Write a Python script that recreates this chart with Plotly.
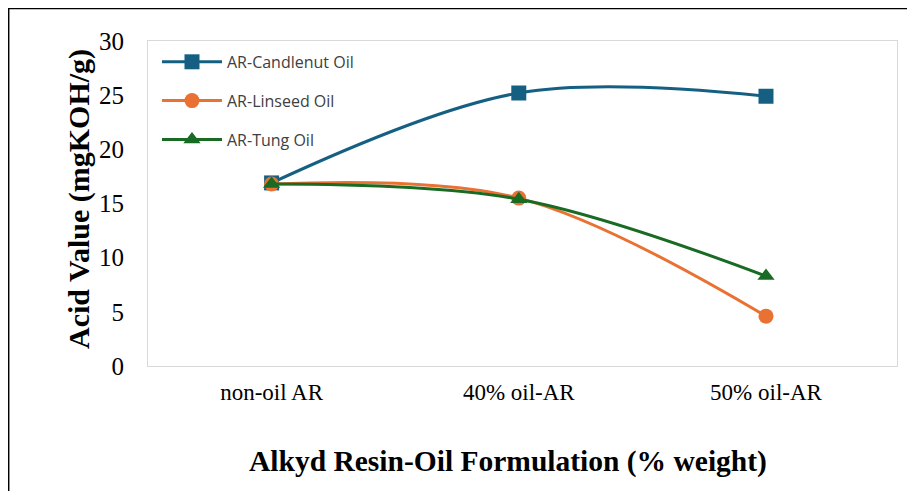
import plotly.graph_objects as go

categories = ["non-oil AR", "40% oil-AR", "50% oil-AR"]
candlenut = [16.9, 25.2, 24.9]
linseed = [16.8, 15.5, 4.6]
tung = [16.8, 15.4, 8.3]
y_ticks = [0, 5, 10, 15, 20, 25, 30]

series = [
    ("AR-Candlenut Oil", candlenut, "#156082", "square"),
    ("AR-Linseed Oil", linseed, "#E97132", "circle"),
    ("AR-Tung Oil", tung, "#196B24", "triangle-up"),
]

fig = go.Figure()
for name, vals, color, symbol in series:
    fig.add_trace(go.Scatter(
        x=categories, y=vals, name=name, legendgroup=name,
        mode="lines+markers",
        line=dict(color=color, width=3, shape="spline", smoothing=1),
        marker=dict(color=color, symbol=symbol, size=15),
    ))

serif = "Liberation Serif"

# the page has an 8px body margin, so margins are shifted to compensate
fig.update_layout(
    width=915, height=491,
    template="none",
    font=dict(family=serif, color="black"),
    margin=dict(l=140, r=26, t=33, b=133, pad=0),
    paper_bgcolor="white", plot_bgcolor="white",
    showlegend=True,
    legend=dict(x=0.012, y=0.988, xanchor="left", yanchor="top",
                font=dict(family="Open Sans", size=16, color="#404040"),
                bgcolor="rgba(0,0,0,0)", traceorder="grouped", tracegroupgap=15,
                itemwidth=60),
    xaxis=dict(
        type="category", range=[-0.5, 2.53],
        showgrid=False, showline=True, linecolor="#D9D9D9", linewidth=1, mirror=True,
        ticks="", tickfont=dict(family=serif, size=23, color="black"),
        ticklabelstandoff=5, zeroline=False,
    ),
    yaxis=dict(
        range=[0, 30], tickvals=y_ticks,
        showgrid=False, showline=True, linecolor="#D9D9D9", linewidth=1, mirror=True,
        ticks="", tickfont=dict(family=serif, size=25, color="black"),
        ticklabelstandoff=18, zeroline=False,
    ),
    annotations=[
        dict(text="<b>Acid Value (mgKOH/g)</b>", xref="paper", yref="paper",
             x=-0.093, y=0.515, textangle=-90, showarrow=False,
             font=dict(family=serif, size=30, color="black"),
             xanchor="center", yanchor="middle"),
        dict(text="<b>Alkyd Resin-Oil Formulation (% weight)</b>", xref="paper", yref="paper",
             x=0.481, y=-0.295, showarrow=False,
             font=dict(family=serif, size=29.5, color="black"),
             xanchor="center", yanchor="middle"),
    ],
    shapes=[
        dict(type="line", xref="paper", yref="paper", x0=-0.187, x1=-0.187, y0=-0.6, y1=1.102,
             line=dict(color="black", width=3)),
        dict(type="line", xref="paper", yref="paper", x0=-0.189, x1=1.1, y0=1.102, y1=1.102,
             line=dict(color="black", width=3)),
    ],
)

fig.write_html("out.html")
